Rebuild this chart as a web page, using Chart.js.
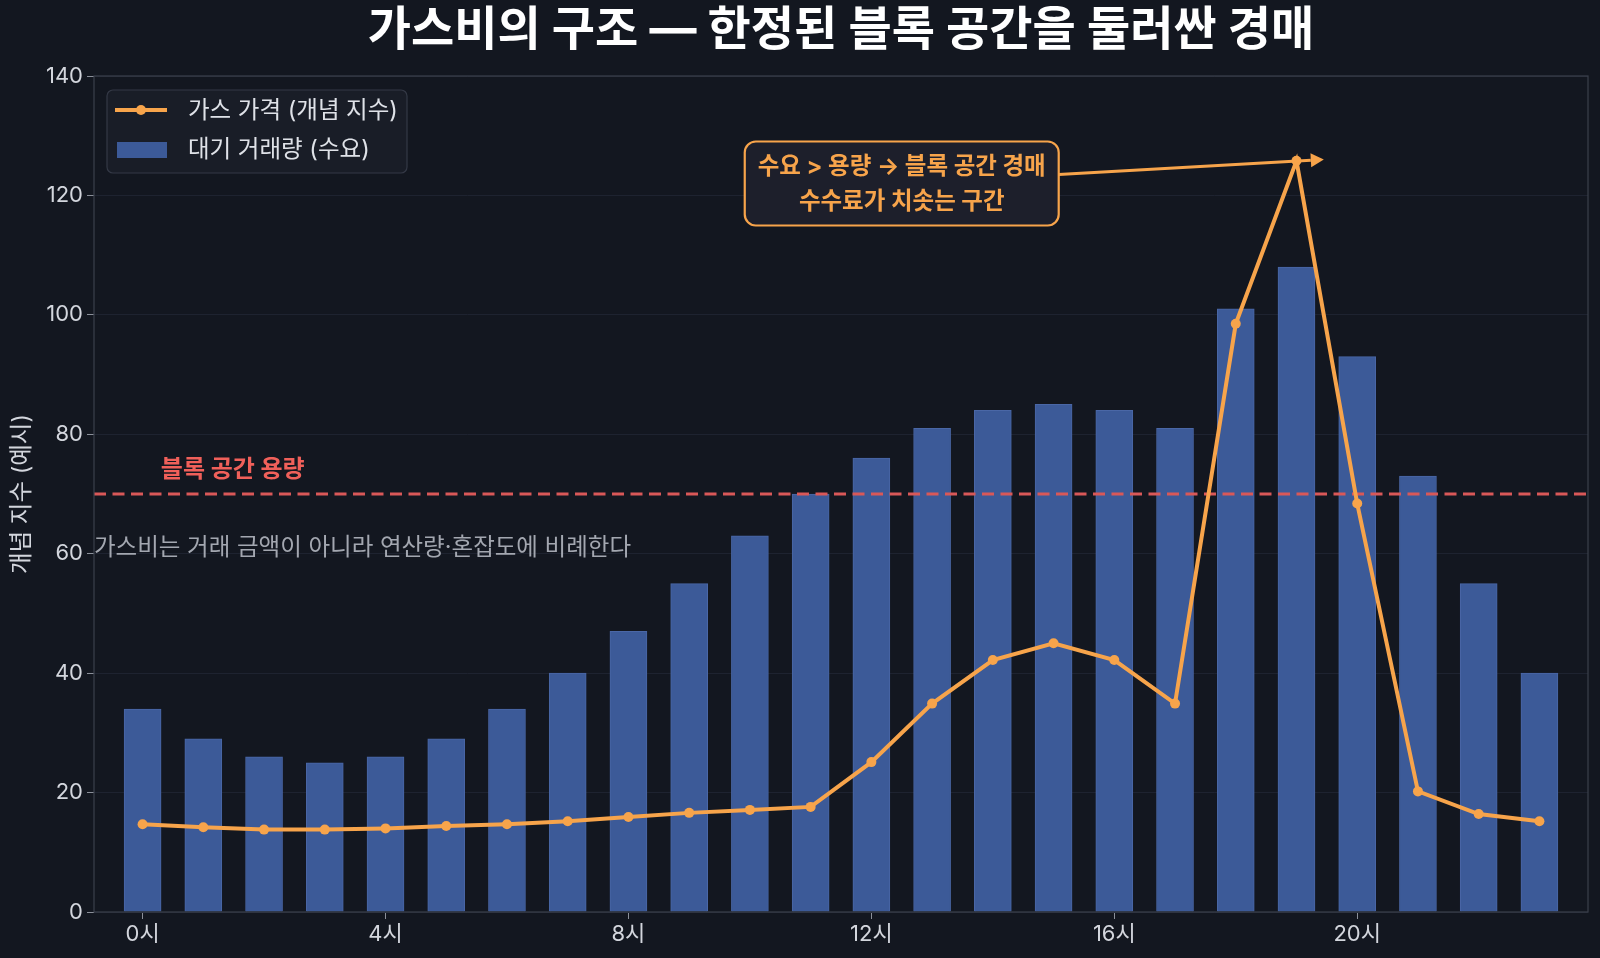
<!DOCTYPE html>
<html>
<head>
<meta charset="utf-8">
<script src="https://cdn.jsdelivr.net/npm/chart.js@4/dist/chart.umd.min.js"></script>
<style>
  html, body { margin: 0; padding: 0; background: #131720; }
  #wrap { width: 1600px; height: 958px; }
</style>
</head>
<body>
<div id="wrap"><canvas id="c"></canvas></div>
<script>
// 데이터
const hours = [0,1,2,3,4,5,6,7,8,9,10,11,12,13,14,15,16,17,18,19,20,21,22,23];
const demand = [34,29,26,25,26,29,34,40,47,55,63,70,76,81,84,85,84,81,101,108,93,73,55,40];
const gasPrice = [14.7,14.2,13.8,13.8,14.0,14.4,14.7,15.2,15.9,16.6,17.1,17.6,25.1,34.9,42.2,45.0,42.2,34.9,98.5,125.8,68.4,20.2,16.4,15.2];
const hourTicks = [0,4,8,12,16,20];
const capacity = 70;
const notePos = [12.5, 122];
const noteTarget = [19.45, 126];

const TITLE = '가스비의 구조 — 한정된 블록 공간을 둘러싼 경매';
const SANS = "Inter, 'Noto Sans CJK KR', sans-serif";
const ORANGE = '#f7a44b';
const BAR = '#3c5a98';
const RED = '#d95858';

function roundRect(ctx, x, y, w, h, r) {
  ctx.beginPath();
  ctx.moveTo(x + r, y);
  ctx.arcTo(x + w, y, x + w, y + h, r);
  ctx.arcTo(x + w, y + h, x, y + h, r);
  ctx.arcTo(x, y + h, x, y, r);
  ctx.arcTo(x, y, x + w, y, r);
  ctx.closePath();
}

const extras = {
  id: 'extras',
  beforeDraw(chart) {
    const ctx = chart.ctx;
    ctx.save();
    ctx.fillStyle = '#131720';
    ctx.fillRect(0, 0, chart.width, chart.height);
    ctx.restore();
  },
  afterDatasetDraw(chart, args) {
    if (args.index !== 0) return;
    // 용량 점선
    const {ctx, chartArea: a, scales: {x, y}} = chart;
    const yy = y.getPixelForValue(capacity);
    ctx.save();
    ctx.strokeStyle = RED;
    ctx.lineWidth = 3;
    ctx.setLineDash([12, 6.5]);
    ctx.beginPath();
    ctx.moveTo(a.left, yy);
    ctx.lineTo(a.right, yy);
    ctx.stroke();
    ctx.setLineDash([]);
    ctx.fillStyle = '#f0605a';
    ctx.font = "bold 24px " + SANS;
    ctx.textBaseline = 'middle';
    ctx.fillText('블록 공간 용량', x.getPixelForValue(0.3), y.getPixelForValue(74.0));
    ctx.fillStyle = '#a3a7b0';
    ctx.font = "23.5px " + SANS;
    ctx.fillText('가스비는 거래 금액이 아니라 연산량·혼잡도에 비례한다', a.left, y.getPixelForValue(60.9));
    ctx.restore();
  },
  afterDraw(chart) {
    const {ctx, chartArea: a, scales: {x, y}} = chart;
    ctx.save();
    // 테두리
    ctx.strokeStyle = '#3b404c';
    ctx.lineWidth = 1.2;
    ctx.strokeRect(a.left, a.top, a.right - a.left, a.bottom - a.top);

    // 제목
    ctx.fillStyle = '#ffffff';
    ctx.font = "bold 47px " + SANS;
    ctx.textAlign = 'center';
    ctx.textBaseline = 'middle';
    ctx.fillText(TITLE, (a.left + a.right) / 2, 31);

    // 주석 상자 + 화살표
    const cx = x.getPixelForValue(notePos[0]);
    const cy = y.getPixelForValue(notePos[1]);
    const tx = x.getPixelForValue(noteTarget[0]);
    const ty = y.getPixelForValue(noteTarget[1]);
    const lines = ['수요 > 용량 → 블록 공간 경매', '수수료가 치솟는 구간'];
    ctx.font = "bold 23.5px " + SANS;
    const w = Math.max(...lines.map(l => ctx.measureText(l).width)) + 26;
    const h = 84;
    const bx = cx - w / 2, by = cy - h / 2;
    const sx = bx + w;
    const sy = cy + (ty - cy) * (sx - cx) / (tx - cx);
    ctx.strokeStyle = ORANGE;
    ctx.fillStyle = ORANGE;
    ctx.lineWidth = 3;
    const ang = Math.atan2(ty - sy, tx - sx);
    const ex = tx - 13 * Math.cos(ang), ey = ty - 13 * Math.sin(ang);
    ctx.beginPath();
    ctx.moveTo(sx, sy);
    ctx.lineTo(ex, ey);
    ctx.stroke();
    ctx.beginPath();
    ctx.moveTo(tx, ty);
    ctx.lineTo(ex - 7 * Math.sin(ang), ey + 7 * Math.cos(ang));
    ctx.lineTo(ex + 7 * Math.sin(ang), ey - 7 * Math.cos(ang));
    ctx.closePath();
    ctx.fill();

    roundRect(ctx, bx, by, w, h, 11);
    ctx.fillStyle = '#1d1f2b';
    ctx.fill();
    ctx.lineWidth = 2.2;
    ctx.stroke();
    ctx.fillStyle = ORANGE;
    ctx.fillText(lines[0], cx, cy - 17);
    ctx.fillText(lines[1], cx, cy + 18);

    // 범례
    const lx = a.left + 13, ly = a.top + 14;
    roundRect(ctx, lx, ly, 300, 83, 6);
    ctx.fillStyle = '#191d27';
    ctx.fill();
    ctx.strokeStyle = '#343946';
    ctx.lineWidth = 1.2;
    ctx.stroke();
    const ds = chart.data.datasets;
    ctx.strokeStyle = ds[1].borderColor;
    ctx.lineWidth = 4;
    ctx.beginPath();
    ctx.moveTo(lx + 8, ly + 20);
    ctx.lineTo(lx + 60, ly + 20);
    ctx.stroke();
    ctx.fillStyle = ds[1].borderColor;
    ctx.beginPath();
    ctx.arc(lx + 34, ly + 20, 5, 0, Math.PI * 2);
    ctx.fill();
    ctx.fillStyle = ds[0].backgroundColor;
    ctx.fillRect(lx + 10, ly + 52, 50, 16);
    ctx.fillStyle = '#dfe2e8';
    ctx.font = "23.5px " + SANS;
    ctx.textAlign = 'left';
    ctx.fillText(ds[1].label, lx + 81, ly + 21);
    ctx.fillText(ds[0].label, lx + 81, ly + 60);
    ctx.restore();
  }
};

new Chart(document.getElementById('c'), {
  type: 'bar',
  data: {
    datasets: [
      {
        type: 'bar',
        label: '대기 거래량 (수요)',
        data: hours.map((h, i) => ({x: h, y: demand[i]})),
        backgroundColor: BAR,
        borderColor: '#4a67a6',
        borderWidth: 1,
        barThickness: 37,
        order: 2
      },
      {
        type: 'line',
        label: '가스 가격 (개념 지수)',
        data: hours.map((h, i) => ({x: h, y: gasPrice[i]})),
        borderColor: ORANGE,
        backgroundColor: ORANGE,
        borderWidth: 4,
        pointRadius: 5,
        pointBackgroundColor: ORANGE,
        pointBorderWidth: 0,
        tension: 0,
        order: 1
      }
    ]
  },
  options: {
    responsive: true,
    maintainAspectRatio: false,
    animation: false,
    layout: { padding: { top: 76, right: 12, left: 0, bottom: 0 } },
    plugins: { legend: { display: false }, tooltip: { enabled: false } },
    scales: {
      x: {
        type: 'linear',
        offset: false,
        min: -0.8,
        max: 23.8,
        afterBuildTicks: s => { s.ticks = hourTicks.map(v => ({value: v})); },
        afterFit: s => { s.height = 46; },
        ticks: {
          callback: v => v + '시',
          color: '#d3d6dd',
          font: { family: SANS, size: 22 },
          padding: 2,
          maxRotation: 0
        },
        grid: { offset: false, drawOnChartArea: false, drawTicks: true, tickLength: 7, tickColor: '#8b909a' },
        border: { display: false }
      },
      y: {
        min: 0,
        max: 140,
        afterFit: s => { s.width = 94; },
        ticks: {
          stepSize: 20,
          color: '#d3d6dd',
          font: { family: SANS, size: 22 },
          padding: 4
        },
        grid: { color: '#1e2330', lineWidth: 1, tickLength: 7, tickColor: '#8b909a' },
        border: { display: false },
        title: {
          display: true,
          text: '개념 지수 (예시)',
          color: '#d3d6dd',
          font: { family: SANS, size: 23.5 },
          padding: { top: 8, bottom: 0 }
        }
      }
    }
  },
  plugins: [extras]
});
</script>
</body>
</html>
